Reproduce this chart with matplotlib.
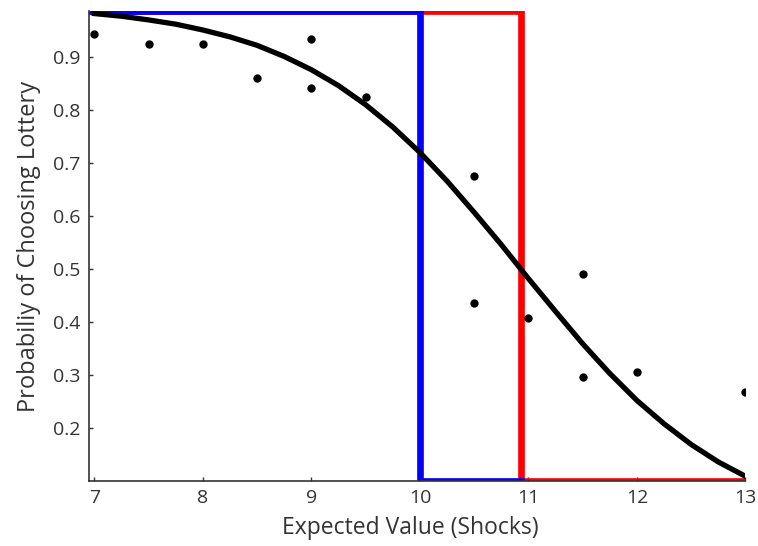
import matplotlib.pyplot as plt
import numpy as np

plt.rcParams['font.family'] = ['Open Sans', 'DejaVu Sans']

# observed choice proportions
ev_points = [7, 7.5, 8, 8.5, 9, 9, 9.5, 10.5, 10.5, 11, 11.5, 11.5, 12, 13]
p_points = [0.943, 0.925, 0.925, 0.860, 0.934, 0.842, 0.824,
            0.676, 0.435, 0.407, 0.490, 0.297, 0.306, 0.268]

# fitted curve
ev_curve = [7, 7.25, 7.5, 7.75, 8, 8.25, 8.5, 8.75, 9, 9.25, 9.5, 9.75, 10,
            10.25, 10.5, 10.75, 11, 11.25, 11.5, 11.75, 12, 12.25, 12.5, 12.75, 13]
p_curve = [0.982, 0.977, 0.970, 0.962, 0.951, 0.938, 0.922, 0.901, 0.876,
           0.846, 0.810, 0.768, 0.720, 0.666, 0.607, 0.546, 0.482, 0.420,
           0.359, 0.303, 0.252, 0.208, 0.169, 0.136, 0.109]

# step boundaries
y_lo, y_hi = 0.1, 0.987
x_lo, x_hi = 6.95, 13
blue_switch = 10
red_switch = 10.93

fig = plt.figure(figsize=(7.58, 5.46), dpi=100)
ax = fig.add_axes([0.1174, 0.119, 0.866, 0.861])

ax.plot([x_lo, red_switch, red_switch, x_hi], [y_hi, y_hi, y_lo, y_lo],
        color='#ff0000', lw=4.8, solid_joinstyle='miter')
ax.plot([x_lo, blue_switch, blue_switch, red_switch], [y_hi, y_hi, y_lo, y_lo],
        color='#0000ff', lw=4.8, solid_joinstyle='miter')
ax.plot(ev_curve, p_curve, color='black', lw=3.8)
ax.plot(ev_points, p_points, 'o', color='black', ms=5)

ax.set_xlim(x_lo, x_hi)
ax.set_ylim(y_lo, y_hi)
ax.set_xticks([7, 8, 9, 10, 11, 12, 13])
ax.set_yticks([0.2, 0.3, 0.4, 0.5, 0.6, 0.7, 0.8, 0.9])
ax.set_yticklabels(['0.2', '0.3', '0.4', '0.5', '0.6', '0.7', '0.8', '0.9'])

for s in ['top', 'right']:
    ax.spines[s].set_visible(False)
for s in ['left', 'bottom']:
    ax.spines[s].set_color('#333333')
    ax.spines[s].set_linewidth(1.2)

ax.tick_params(direction='in', length=3, width=1, colors='#333333',
               labelsize=14, labelcolor='#333333', pad=6)

ax.set_xlabel('Expected Value (Shocks)', fontsize=16.5, color='#333333', labelpad=4)
ax.xaxis.set_label_coords(0.49, -0.075)
ax.set_ylabel('Probabiliy of Choosing Lottery', fontsize=17, color='#333333', labelpad=9)

fig.savefig('out.png', dpi=100)
